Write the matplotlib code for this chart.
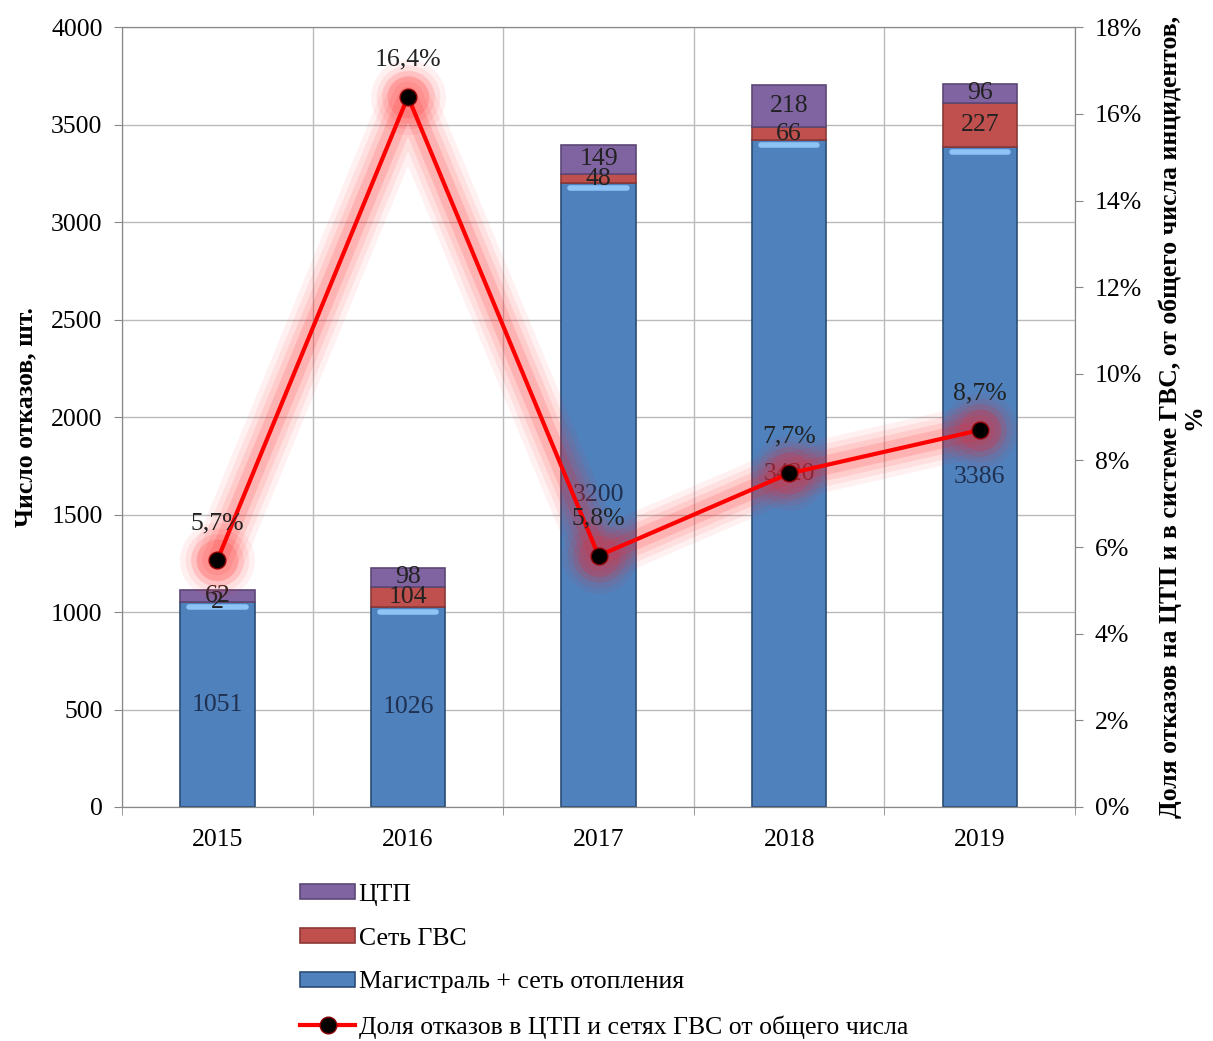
import numpy as np
import matplotlib
matplotlib.use('Agg')
from matplotlib import pyplot as plt
from matplotlib.ticker import FuncFormatter, MultipleLocator

plt.rcParams['font.family'] = ['Liberation Serif', 'DejaVu Serif']

years = ['2015', '2016', '2017', '2018', '2019']
main_net = [1051, 1026, 3200, 3420, 3386]
gvs_net = [2, 104, 48, 66, 227]
ctp = [62, 98, 149, 218, 96]
share = [5.7, 16.4, 5.8, 7.7, 8.7]

c_blue = '#4F81BD'
c_red = '#C0504D'
c_purple = '#8064A2'
fs = 18.5

fig = plt.figure(figsize=(12.13, 10.41), dpi=100)
ax = fig.add_axes([0.1006, 0.2248, 0.7857, 0.749])
x = np.arange(len(years))
w = 0.39

b1 = ax.bar(x, main_net, w, color=c_blue, edgecolor='#2C4D75', linewidth=1.2, zorder=2,
            label='Магистраль + сеть отопления')
bot2 = np.array(main_net)
b2 = ax.bar(x, gvs_net, w, bottom=bot2, color=c_red, edgecolor='#8C3836', linewidth=1.2, zorder=2,
            label='Сеть ГВС')
bot3 = bot2 + np.array(gvs_net)
b3 = ax.bar(x, ctp, w, bottom=bot3, color=c_purple, edgecolor='#5C4776', linewidth=1.2, zorder=2,
            label='ЦТП')
# light highlight at top of the blue part
for xi, v in zip(x, main_net):
    ax.plot([xi - w * 0.38, xi + w * 0.38], [v - 25, v - 25], color='#8DC3F5', lw=4,
            solid_capstyle='round', zorder=3)

for xi, v in zip(x, main_net):
    ax.text(xi, v / 2, str(v), ha='center', va='center', fontsize=fs, color='#1F3050', zorder=6)
for xi, b, v in zip(x, bot2, gvs_net):
    ax.text(xi, b + v / 2, str(v), ha='center', va='center', fontsize=fs, color='#222222', zorder=6)
for xi, b, v in zip(x, bot3, ctp):
    ax.text(xi, b + v / 2, str(v), ha='center', va='center', fontsize=fs, color='#222222', zorder=6)

ax.set_xlim(-0.485, 4.485)
ax.set_ylim(0, 4000)
ax.yaxis.set_major_locator(MultipleLocator(500))
ax.set_xticks(x)
ax.set_xticklabels(years, fontsize=fs)
ax.set_xticks(np.arange(-0.5, 5, 1), minor=True)
ax.tick_params(axis='x', which='major', length=0, pad=16)
ax.tick_params(axis='x', which='minor', length=6, direction='out', color='#888888')
ax.tick_params(axis='y', labelsize=fs, length=6, color='#888888', pad=8)
ax.grid(axis='y', color='#BBBBBB', lw=1, zorder=0)
ax.grid(axis='x', which='minor', color='#BBBBBB', lw=1, zorder=0)
for s in ax.spines.values():
    s.set_color('#888888')
ax.set_ylabel('Число отказов, шт.', fontsize=fs, fontweight='bold', labelpad=10)

ax2 = ax.twinx()
ax2.set_ylim(0, 18)
ax2.yaxis.set_major_locator(MultipleLocator(2))
ax2.yaxis.set_major_formatter(FuncFormatter(lambda v, p: f'{v:.0f}%'))
ax2.tick_params(axis='y', labelsize=fs, length=6, color='#888888', pad=8)
for s in ax2.spines.values():
    s.set_color('#888888')
ax2.set_ylabel('Доля отказов на ЦТП и в системе ГВС, от общего числа инцидентов,\n%',
               fontsize=18.5, fontweight='bold', labelpad=12, linespacing=1.0)

# glow
for lw, a in [(38, 0.06), (30, 0.08), (22, 0.1), (14, 0.15)]:
    ax2.plot(x, share, color='#FF2020', lw=lw, alpha=a, solid_capstyle='round',
             solid_joinstyle='round', zorder=3)
    ax2.plot(x, share, 'o', color='#FF2020', ms=lw + 16, alpha=a, mew=0, zorder=3)
line, = ax2.plot(x, share, color='#FF0000', lw=3, marker='o', ms=12, mfc='black', mec='#8B0000',
                 zorder=5, label='Доля отказов в ЦТП и сетях ГВС от общего числа')
for xi, v in zip(x, share):
    ax2.text(xi, v + 0.6, f'{v:.1f}%'.replace('.', ','), ha='center', va='bottom', fontsize=fs,
             color='#222222', zorder=6)

fig.legend([b3, b2, b1, line], [b3.get_label(), b2.get_label(), b1.get_label(), line.get_label()],
           loc='upper left', bbox_to_anchor=(0.239, 0.161), frameon=False, fontsize=fs,
           handlelength=2.15, handleheight=0.5, handletextpad=0.12, labelspacing=0.85,
           borderaxespad=0)

fig.savefig('out.png', dpi=100)
